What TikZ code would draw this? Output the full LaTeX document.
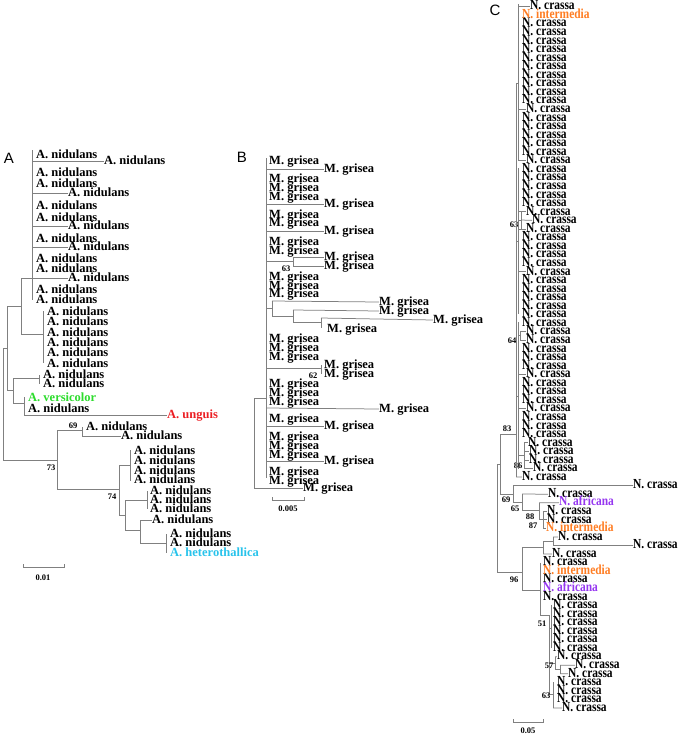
\documentclass[tikz,border=0pt]{standalone}
\usepackage{fontspec}
\setmainfont{Liberation Serif}
\setsansfont{Liberation Sans}
\newfontfamily\narrowserif[FakeStretch=0.83]{Liberation Serif}
\usepackage{xcolor}
\usetikzlibrary{calc}
\definecolor{VersGreen}{RGB}{45,220,45}
\definecolor{UnguisRed}{RGB}{235,30,35}
\definecolor{HeteroCyan}{RGB}{40,195,235}
\definecolor{InterOrange}{RGB}{255,125,35}
\definecolor{AfriPurple}{RGB}{150,55,240}
\tikzset{
  br/.style={draw=black!50, line width=0.75pt},
  taxA/.style={anchor=west, inner sep=0pt, text height=0.66em, text depth=0pt,
    font=\fontsize{12.5}{13}\selectfont\bfseries},
  taxC/.style={taxA, font=\narrowserif\fontsize{13.8}{14}\selectfont\bfseries},
  boot/.style={inner sep=0pt, font=\fontsize{8.5}{9}\selectfont\bfseries},
  panel/.style={inner sep=0pt, font=\fontsize{15}{16}\selectfont\sffamily},
  sbar/.style={draw=black!50, line width=0.75pt},
}

\begin{document}
\begin{tikzpicture}[x=1pt, y=-1pt]
  \useasboundingbox (0,0) rectangle (680,737);

  % ---------------- panel A
  \node[panel] (pA) at (9,158) {A};
  \draw[br] (32,150) -- (32,300);
  \foreach \y [count=\k] in {155,173,184,206,218,239,259,269,290,300}
    \node[taxA] (a\k) at (36,\y) {A. nidulans};
  \foreach \y/\x [count=\k] in {161.5/104,193.5/68,226/68,247/68,278/68}
    {\node[taxA] (al\k) at (\x,\y) {A. nidulans};
     \draw[br] (32,\y) -- (al\k.west);}
  \draw[br] (21,278) -- (32,278);
  \draw[br] (21,278) -- (21,334) -- (43,334);
  \draw[br] (43,311) -- (43,363);
  \foreach \y [count=\k] in {312,322,333,343,353,364}
    \node[taxA] (am\k) at (47,\y) {A. nidulans};
  \draw[br] (7,306) -- (21,306);
  \draw[br] (7,306) -- (7,390) -- (13,390);
  \draw[br] (13,378) -- (13,403);
  \draw[br] (13,378) -- (39,378);
  \draw[br] (39,375) -- (39,384);
  \node[taxA] (ap1) at (43,375) {A. nidulans};
  \node[taxA] (ap2) at (43,384) {A. nidulans};
  \draw[br] (13,403) -- (24,403);
  \draw[br] (24,397) -- (24,415);
  \node[taxA, text=VersGreen] (avers) at (28,398) {A. versicolor};
  \node[taxA] (ap3) at (28,409) {A. nidulans};
  \node[taxA, text=UnguisRed] (aung) at (167,415) {A. unguis};
  \draw[br] (24,415) -- (aung.west);
  % root and lower clade
  \draw[br] (7,348) -- (3,348) -- (3,460) -- (57,460);
  \draw[br] (57,430) -- (57,489);
  \node[boot] (bA73) at (51,468) {73};
  \draw[br] (57,430) -- (82,430);
  \draw[br] (82,427) -- (82,436);
  \node[taxA] (aq1) at (86,427) {A. nidulans};
  \node[taxA] (aq2) at (121,436) {A. nidulans};
  \draw[br] (82,436) -- (aq2.west);
  \node[boot] (bA69) at (73,426) {69};
  \draw[br] (57,489) -- (119,489);
  \draw[br] (119,465) -- (119,515);
  \node[boot] (bA74) at (112,497) {74};
  \draw[br] (119,465) -- (130,465);
  \draw[br] (130,450) -- (130,481);
  \foreach \y [count=\k] in {451,461,471,480}
    \node[taxA] (ar\k) at (134,\y) {A. nidulans};
  \draw[br] (119,515) -- (125,515);
  \draw[br] (125,500) -- (125,530);
  \draw[br] (125,500) -- (147,500);
  \draw[br] (147,491) -- (147,509);
  \foreach \y [count=\k] in {491,500,509}
    \node[taxA] (as\k) at (150,\y) {A. nidulans};
  \draw[br] (125,530) -- (140,530);
  \draw[br] (140,520) -- (140,543);
  \node[taxA] (at1) at (152,520) {A. nidulans};
  \draw[br] (140,520) -- (at1.west);
  \draw[br] (140,543) -- (166,543);
  \draw[br] (166,534) -- (166,553);
  \node[taxA] (at2) at (170,534) {A. nidulans};
  \node[taxA] (at3) at (170,543) {A. nidulans};
  \node[taxA, text=HeteroCyan] (ahet) at (170,553) {A. heterothallica};
  % scale A
  \draw[sbar] (23,564) -- (23,567) -- (64,567) -- (64,564);
  \node[boot] (sA) at (43,578) {0.01};

  % ---------------- panel B
  \node[panel] (pB) at (242,157) {B};
  \draw[br] (266,158) -- (266,478);
  \foreach \y [count=\k] in {161,179,188,197,215,223,242,251,277,286,294,339,348,357,384,393,402,419,437,446,455,472,481}
    \node[taxA] (b\k) at (269,\y) {M. grisea};
  \foreach \y [count=\k] in {169,204.5,231,426,461.5}
    {\node[taxA] (bl\k) at (324,\y) {M. grisea};
     \draw[br] (266,\y) -- (bl\k.west);}
  % 63
  \draw[br] (266,261) -- (293,261);
  \draw[br] (293,257) -- (293,266);
  \node[taxA] (bm1) at (324,257) {M. grisea};
  \node[taxA] (bm2) at (324,266) {M. grisea};
  \draw[br] (293,257) -- (bm1.west);
  \draw[br] (293,266) -- (bm2.west);
  \node[boot] (bB63) at (286,269) {63};
  % long branches
  \draw[br] (266,308) -- (272,308);
  \draw[br] (272,301) -- (272,316);
  \node[taxA] (bn1) at (379,302) {M. grisea};
  \draw[br] (272,301) -- (bn1.west);
  \draw[br] (272,316) -- (293,316);
  \draw[br] (293,310) -- (293,322);
  \node[taxA] (bn2) at (379,311) {M. grisea};
  \draw[br] (293,310) -- (bn2.west);
  \draw[br] (293,322) -- (321,322);
  \draw[br] (321,318) -- (321,328);
  \node[taxA] (bn3) at (433,320) {M. grisea};
  \draw[br] (321,318) -- (bn3.west);
  \node[taxA] (bn4) at (327,329) {M. grisea};
  % 62
  \draw[br] (266,368) -- (321,368);
  \draw[br] (321,365) -- (321,374);
  \node[taxA] (bo1) at (324,365) {M. grisea};
  \node[taxA] (bo2) at (324,374) {M. grisea};
  \node[boot] (bB62) at (313,376) {62};
  \node[taxA] (bo3) at (379,409) {M. grisea};
  \draw[br] (266,408) -- (bo3.west);
  % root
  \node[taxA] (bo4) at (303,488) {M. grisea};
  \draw[br] (266,398) -- (254,398) -- (254,488) -- (bo4.west);
  % scale B
  \draw[sbar] (272,497) -- (272,500) -- (304,500) -- (304,497);
  \node[boot] (sB) at (288,509) {0.005};

  % ---------------- panel C
  \node[panel] (pC) at (495,10) {C};
  \foreach \i in {2,3,4,5,6,7,8,9,10,11,13,14,15,16,17,19,20,21,22,23,27,28,29,30,32,33,34,35,36,37,40,41,42,44,45,46,48,49,50,55}
    \node[taxC] (c\i) at (522,{6.5+8.555*\i}) {N. crassa};
  \foreach \i in {12,18,24,26,31,38,39,43,47}
    \node[taxC] (c\i) at (526,{6.5+8.555*\i}) {N. crassa};
  \foreach \i/\x in {0/530,25/532,51/528,52/529,53/529,54/533,56/633,57/548,59/547,60/547,62/558,63/633,64/552,65/543,67/543,69/543,70/553,71/553,72/553,73/553,74/553,75/553,76/557,77/575,78/568,79/557,80/557,81/557,82/562}
    \node[taxC] (c\i) at (\x,{6.5+8.555*\i}) {N. crassa};
  \foreach \i/\x in {1/522,61/546,66/543}
    \node[taxC, text=InterOrange] (c\i) at (\x,{6.5+8.555*\i}) {N. intermedia};
  \foreach \i/\x in {58/559,68/543}
    \node[taxC, text=AfriPurple] (c\i) at (\x,{6.5+8.555*\i}) {N. africana};
  % upper clade
  \draw[br] (518,4) -- (518,161);
  \foreach \i in {0,12,18}
    \draw[br] (518,{6.5+8.555*\i}) -- (c\i.west);
  \draw[br] (518,168) -- (518,314);
  \foreach \i in {24,26,31}
    \draw[br] (518,{6.5+8.555*\i}) -- (c\i.west);
  \draw[br] (518,220) -- (521,220);
  \draw[br] (521,211.8) -- (521,228.9);
  \draw[br] (521,220) -- (c25.west);
  \node[boot] (bC63) at (514,225) {63};
  \draw[br] (518,322) -- (518,469);
  \foreach \i in {43,47}
    \draw[br] (518,{6.5+8.555*\i}) -- (c\i.west);
  \draw[br] (518,335) -- (520,335);
  \draw[br] (520,331.6) -- (520,340.1);
  \foreach \i in {38,39}
    \draw[br] (520,{6.5+8.555*\i}) -- (c\i.west);
  \node[boot] (bC64) at (512,341) {64};
  \draw[br] (518,455) -- (524,455);
  \draw[br] (524,442.8) -- (524,468.5);
  \foreach \i in {51,52,53,54}
    \draw[br] (524,{6.5+8.555*\i}) -- (c\i.west);
  \node[boot] (bC86) at (518,466) {86};
  \draw[br] (516,83) -- (516,477);
  \draw[br] (516,83) -- (518,83);
  \draw[br] (516,241) -- (518,241);
  \draw[br] (516,396) -- (518,396);
  \draw[br] (516,477) -- (c55.west);
  \draw[br] (500,434) -- (516,434);
  \node[boot] (bC83) at (507,429) {83};
  \draw[br] (500,434) -- (500,494);
  % 69 / 65
  \draw[br] (500,494) -- (513,494);
  \draw[br] (513,485.6) -- (513,502);
  \draw[br] (513,485.6) -- (c56.west);
  \node[boot] (bC69) at (506,500) {69};
  \draw[br] (513,502) -- (522,502);
  \draw[br] (522,494.1) -- (522,510);
  \draw[br] (522,494.1) -- (c57.west);
  \node[boot] (bC65) at (515,509) {65};
  \draw[br] (522,510) -- (539,510);
  \draw[br] (539,502.7) -- (539,519.8);
  \draw[br] (539,502.7) -- (c58.west);
  \draw[br] (539,519.8) -- (543,519.8);
  \draw[br] (543,511.2) -- (543,528.3);
  \foreach \i in {59,60,61}
    \draw[br] (543,{6.5+8.555*\i}) -- (c\i.west);
  \node[boot] (bC88) at (530,517) {88};
  \node[boot] (bC87) at (533,526) {87};
  % root
  \draw[br] (500,464) -- (497,464) -- (497,572) -- (522,572);
  \draw[br] (522,547) -- (522,590);
  \node[boot] (bC96) at (514,580) {96};
  \draw[br] (522,547) -- (543,547);
  \draw[br] (543,541) -- (543,554);
  \draw[br] (543,554) -- (c64.west);
  \draw[br] (543,541) -- (553,541);
  \draw[br] (553,536.9) -- (553,545.5);
  \draw[br] (553,536.9) -- (c62.west);
  \draw[br] (553,545.5) -- (c63.west);
  \draw[br] (522,590) -- (540,590);
  \draw[br] (540,562.5) -- (540,615);
  \draw[br] (540,615) -- (549,615);
  \draw[br] (549,615) -- (549,694);
  \node[boot] (bC51) at (542,624) {51};
  \draw[br] (549,628) -- (551,628);
  \draw[br] (551,605) -- (551,648);
  \draw[br] (549,663) -- (555,663);
  \draw[br] (555,656.7) -- (555,669);
  \draw[br] (555,656.7) -- (c76.west);
  \draw[br] (555,669) -- (560,669);
  \draw[br] (560,665.2) -- (560,673.8);
  \draw[br] (560,665.2) -- (c77.west);
  \draw[br] (560,673.8) -- (c78.west);
  \node[boot] (bC57) at (549,666) {57};
  \draw[br] (549,694) -- (553,694);
  \draw[br] (553,682.3) -- (553,708);
  \draw[br] (553,708) -- (c82.west);
  \node[boot] (bC63b) at (546,696) {63};
  % scale C
  \draw[sbar] (513,719) -- (513,722) -- (543,722) -- (543,719);
  \node[boot] (sC) at (528,731) {0.05};
\end{tikzpicture}
\end{document}
